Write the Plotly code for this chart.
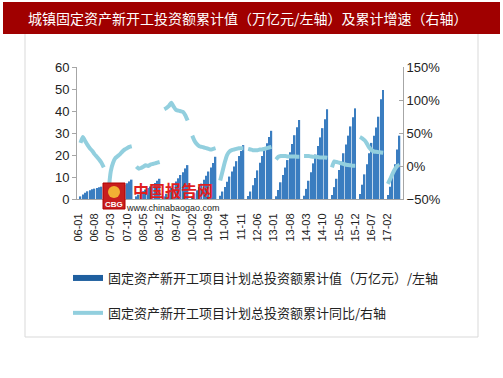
import plotly.graph_objects as go

# ---------------- data ----------------
years = list(range(2006, 2018))
categories = [f"{y % 100:02d}-{m:02d}" for y in years for m in range(1, 13)][:140]
tick_labels = categories[::7]

# cumulative planned investment of newly started projects (trillion yuan), Feb..Dec (Jan n/a)
bar_2006 = [1.2, 2.0, 2.8, 3.5, 4.0, 4.4, 4.7, 5.0, 5.3, 5.6, 6.8]
bar_2007 = [0.9, 1.7, 2.5, 3.2, 4.0, 4.8, 5.6, 6.5, 7.2, 8.0, 8.8]
bar_2008 = [1.2, 2.0, 2.9, 3.6, 4.3, 5.0, 5.7, 6.5, 7.3, 8.3, 9.2]
bar_2009 = [1.2, 2.3, 3.6, 5.0, 6.5, 8.0, 9.4, 10.9, 12.2, 13.9, 15.4]
bar_2010 = [1.3, 2.6, 4.0, 5.4, 7.0, 8.8, 10.6, 12.5, 14.3, 16.4, 19.2]
bar_2011 = [1.5, 3.4, 5.5, 7.8, 10.2, 12.5, 14.8, 17.2, 19.5, 21.8, 24.5]
bar_2012 = [1.4, 3.4, 6.3, 9.6, 13.0, 16.5, 19.6, 22.6, 25.3, 28.2, 31.0]
bar_2013 = [1.2, 4.1, 7.6, 10.9, 14.3, 17.7, 21.3, 25.0, 29.0, 32.6, 35.9]
bar_2014 = [1.5, 4.6, 8.3, 12.2, 16.2, 20.2, 24.1, 28.0, 32.2, 36.3, 40.8]
bar_2015 = [1.8, 5.4, 9.2, 13.2, 17.0, 20.8, 24.8, 28.8, 33.0, 37.2, 41.2]
bar_2016 = [2.3, 6.5, 11.2, 15.8, 20.8, 25.5, 28.8, 32.5, 37.4, 45.3, 49.5]
bar_2017 = [1.8, 5.6, 10.5, 15.8, 22.5, 28.8]

# cumulative YoY growth (%), Feb..Dec
yoy_2006 = [35, 44, 38, 32, 27, 23, 18, 14, 10, 5, -2]
yoy_2007 = [-40, -8, 5, 12, 15, 18, 22, 25, 27, 29, 30]
yoy_2008 = [-1, -4, -3, -1, 1, 0, 2, 3, 4, 5, 6]
yoy_2009 = [86, 88, 91, 96, 90, 85, 84, 83, 82, 77, 69]
yoy_2010 = [46, 38, 33, 30, 29, 28, 27, 26, 25, 26, 27]
yoy_2011 = [-22, -8, 6, 17, 22, 24, 25, 26, 27, 27, 27]
yoy_2012 = [26, 25, 24, 24, 24, 25, 25, 26, 27, 28, 29]
yoy_2013 = [10, 14, 15, 15, 15, 14.5, 14.5, 14.5, 14.5, 14, 14]
yoy_2014 = [15, 15, 15, 14.5, 14, 14, 13.5, 13, 13, 13, 12.5]
yoy_2015 = [-2, 7, 6, 5, 4, 3, 2, 1.5, 1, 0.5, 0.5]
yoy_2016 = [44, 42, 39, 34, 28, 24, 22, 21.5, 21, 20.5, 20]
yoy_2017 = [-27, -20, -12, -5, 0, 2]

bar_years = [bar_2006, bar_2007, bar_2008, bar_2009, bar_2010, bar_2011,
             bar_2012, bar_2013, bar_2014, bar_2015, bar_2016, bar_2017]
yoy_years = [yoy_2006, yoy_2007, yoy_2008, yoy_2009, yoy_2010, yoy_2011,
             yoy_2012, yoy_2013, yoy_2014, yoy_2015, yoy_2016, yoy_2017]


def expand(per_year):
    out = []
    for vals in per_year:
        out.append(None)  # January not published
        out.extend(vals)
    out += [None] * (len(categories) - len(out))
    return out


bar_values = expand(bar_years)
yoy_values = expand(yoy_years)

name_bar = "固定资产新开工项目计划总投资额累计值（万亿元）/左轴"
name_line = "固定资产新开工项目计划总投资额累计同比/右轴"
title_text = "城镇固定资产新开工投资额累计值（万亿元/左轴）及累计增速（右轴）"

# ---------------- layout helpers ----------------
W, H = 503, 378
L, R, T, B = 77, 403, 67, 199


def px(x):
    return (x - L) / (R - L)


def py(y):
    return (B - y) / (B - T)


CJK = "Noto Sans CJK SC"
NUM = "Liberation Sans, Arial, sans-serif"

fig = go.Figure()
fig.add_trace(go.Bar(x=categories, y=bar_values, marker=dict(color="#3A7DC0", line=dict(width=0)),
                     showlegend=False, yaxis="y"))
fig.add_trace(go.Scatter(x=categories, y=yoy_values, mode="lines", yaxis="y2",
                         line=dict(color="#92CFDE", width=4, shape="spline", smoothing=0.6),
                         connectgaps=False, showlegend=False))
# legend entries
fig.add_trace(go.Scatter(x=[None], y=[None], mode="lines", name=name_bar,
                         line=dict(color="#1F5F9F", width=6), legendgroup="a"))
fig.add_trace(go.Scatter(x=[None], y=[None], mode="lines", name=name_line, yaxis="y2",
                         line=dict(color="#92CFDE", width=4), legendgroup="b"))

fig.update_layout(
    width=W, height=H, autosize=False,
    margin=dict(l=L, r=W - R, t=T, b=H - B, pad=0),
    paper_bgcolor="white", plot_bgcolor="white",
    bargap=0.35,
    xaxis=dict(type="category", categoryorder="array", categoryarray=categories,
               tickmode="array", tickvals=tick_labels, ticktext=tick_labels,
               tickangle=-90, ticks="", showline=True, linecolor="#a6a6a6", linewidth=1,
               range=[-0.5, len(categories) - 0.5], showgrid=False,
               tickfont=dict(family=NUM, size=11, color="#222"), ticklabelstandoff=9),
    yaxis=dict(range=[0, 60], dtick=10, showgrid=False, zeroline=False,
               showline=True, linecolor="#a6a6a6", ticks="outside", ticklen=4, tickcolor="#a6a6a6",
               tickfont=dict(family=NUM, size=13, color="#222")),
    yaxis2=dict(range=[-50, 150], dtick=50, ticksuffix="%", overlaying="y", side="right",
                showgrid=False, zeroline=False, showline=True, linecolor="#a6a6a6",
                ticks="inside", ticklen=4, tickcolor="#a6a6a6",
                tickfont=dict(family=NUM, size=13, color="#222")),
    legend=dict(orientation="v", x=px(68), y=py(263), xanchor="left", yanchor="top",
                font=dict(family=CJK, size=13, color="#222"), tracegroupgap=15,
                bgcolor="rgba(0,0,0,0)", itemwidth=30),
    shapes=[
        dict(type="rect", xref="paper", yref="paper", x0=px(25), x1=px(478), y0=py(33), y1=py(337),
             line=dict(color="#d9d9d9", width=1), fillcolor="rgba(0,0,0,0)", layer="below"),
        dict(type="rect", xref="paper", yref="paper", x0=px(3), x1=px(500), y0=py(2), y1=py(34),
             line=dict(width=0), fillcolor="#A00000", layer="above"),
        # watermark logo box
        dict(type="rect", xref="paper", yref="paper", x0=px(103), x1=px(125), y0=py(183), y1=py(209),
             line=dict(color="#B00000", width=1), fillcolor="#C81E1E", layer="above"),
        dict(type="circle", xref="paper", yref="paper", x0=px(108), x1=px(120), y0=py(186), y1=py(198),
             line=dict(width=0), fillcolor="#F2B134", layer="above"),
    ],
    annotations=[
        dict(text=title_text, xref="paper", yref="paper", x=px(248), y=py(18), showarrow=False,
             xanchor="center", yanchor="middle", font=dict(family=CJK, size=14, color="white")),
        dict(text="<b>中国报告网</b>", xref="paper", yref="paper", x=px(173), y=py(189.5), showarrow=False,
             xanchor="center", yanchor="middle", font=dict(family=CJK, size=16, color="#E01E1E")),
        dict(text="www.chinabaogao.com", xref="paper", yref="paper", x=px(173), y=py(207.5), showarrow=False,
             xanchor="center", yanchor="middle", font=dict(family=NUM, size=9, color="#222")),
        dict(text="<b>CBG</b>", xref="paper", yref="paper", x=px(114), y=py(204), showarrow=False,
             xanchor="center", yanchor="middle", font=dict(family=NUM, size=8, color="white")),
    ],
)

fig.write_html("out.html", config={"displayModeBar": False},
               post_script="document.body.style.margin='0';document.body.style.overflow='hidden';")
